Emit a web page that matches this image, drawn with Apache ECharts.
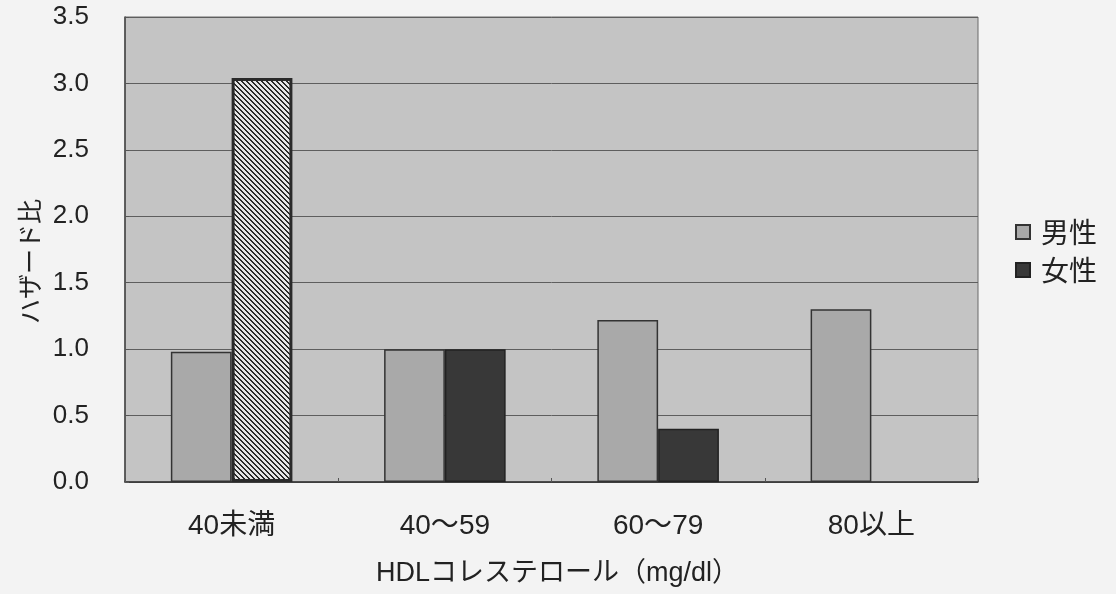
<!DOCTYPE html>
<html>
<head>
<meta charset="utf-8">
<script src="https://cdn.jsdelivr.net/npm/echarts@6/dist/echarts.min.js"></script>
<style>
html,body{margin:0;padding:0;background:#f3f3f3;}
#c{width:1116px;height:594px;}
</style>
</head>
<body>
<div id="c"></div>
<script>
const categories = ['40未満', '40～59', '60～79', '80以上'];
const maleValues = [0.98, 1.0, 1.22, 1.30];
const femaleValues = [3.04, 1.0, 0.40, null];
const yTicks = ['0.0','0.5','1.0','1.5','2.0','2.5','3.0','3.5'];
const seriesNames = ['男性', '女性'];

function hatch() {
  const s = 5;
  const cv = document.createElement('canvas');
  cv.width = s; cv.height = s;
  const ctx = cv.getContext('2d');
  ctx.fillStyle = '#e6e6e6';
  ctx.fillRect(0, 0, s, s);
  ctx.fillStyle = '#2a2a2a';
  for (let y = 0; y < s; y++) {
    for (let x = 0; x < s; x++) {
      const d = ((x - y) % s + s) % s;
      if (d === 0 || d === 1) ctx.fillRect(x, y, 1, 1);
    }
  }
  return cv;
}

const chart = echarts.init(document.getElementById('c'), null, {renderer: 'canvas'});
const femaleData = femaleValues.map((v, i) => {
  if (v === null) return '-';
  if (i === 0) {
    return {value: v, itemStyle: {color: {image: hatch(), repeat: 'repeat'}, borderColor: '#2a2a2a', borderWidth: 3}};
  }
  return v;
});

const font = '"Liberation Sans", "Noto Sans CJK JP", sans-serif';
const cjk = '"Noto Sans CJK JP", sans-serif';
chart.setOption({
  backgroundColor: '#f3f3f3',
  animation: false,
  textStyle: {fontFamily: font},
  grid: {left: 125, right: 138, top: 17, bottom: 112, show: true, backgroundColor: '#c4c4c4', borderColor: '#6a6a6a', borderWidth: 1},
  legend: {
    orient: 'vertical', right: 14, top: 213,
    icon: 'rect',
    itemWidth: 14, itemHeight: 14, itemGap: 10,
    textStyle: {fontSize: 28, color: '#222', fontFamily: cjk, padding: [0, 0, 0, 6]},
    data: seriesNames
  },
  xAxis: {
    type: 'category', data: categories,
    axisLine: {lineStyle: {color: '#333', width: 1.5}},
    axisTick: {show: true, length: 4, inside: true, lineStyle: {color: '#555'}},
    axisLabel: {fontSize: 28, color: '#222', margin: 30, fontFamily: font},
    name: 'HDLコレステロール（mg/dl）', nameLocation: 'middle', nameGap: 78,
    nameTextStyle: {fontSize: 27, color: '#222', fontFamily: font, padding: [0, 0, 0, 12]}
  },
  yAxis: {
    type: 'value', min: 0, max: 3.5, interval: 0.5,
    axisLine: {show: true, lineStyle: {color: '#444', width: 1.5}},
    axisTick: {show: true, length: 4, inside: true, lineStyle: {color: '#555'}},
    axisLabel: {fontSize: 26, color: '#222', margin: 36, formatter: v => yTicks[Math.round(v / 0.5)]},
    splitLine: {show: true, lineStyle: {color: '#5e5e5e', width: 1}},
    name: 'ハザード比', nameLocation: 'middle', nameGap: 80,
    nameTextStyle: {fontSize: 25, color: '#222', fontFamily: cjk, padding: [0, 24, 0, 0]}
  },
  series: [
    {
      name: seriesNames[0], type: 'bar', data: maleValues,
      barGap: '0%', barCategoryGap: '43%',
      itemStyle: {color: '#a9a9a9', borderColor: '#333', borderWidth: 1.5}
    },
    {
      name: seriesNames[1], type: 'bar', data: femaleData,
      itemStyle: {color: '#383838', borderColor: '#222', borderWidth: 1.5}
    }
  ]
});
</script>
</body>
</html>
